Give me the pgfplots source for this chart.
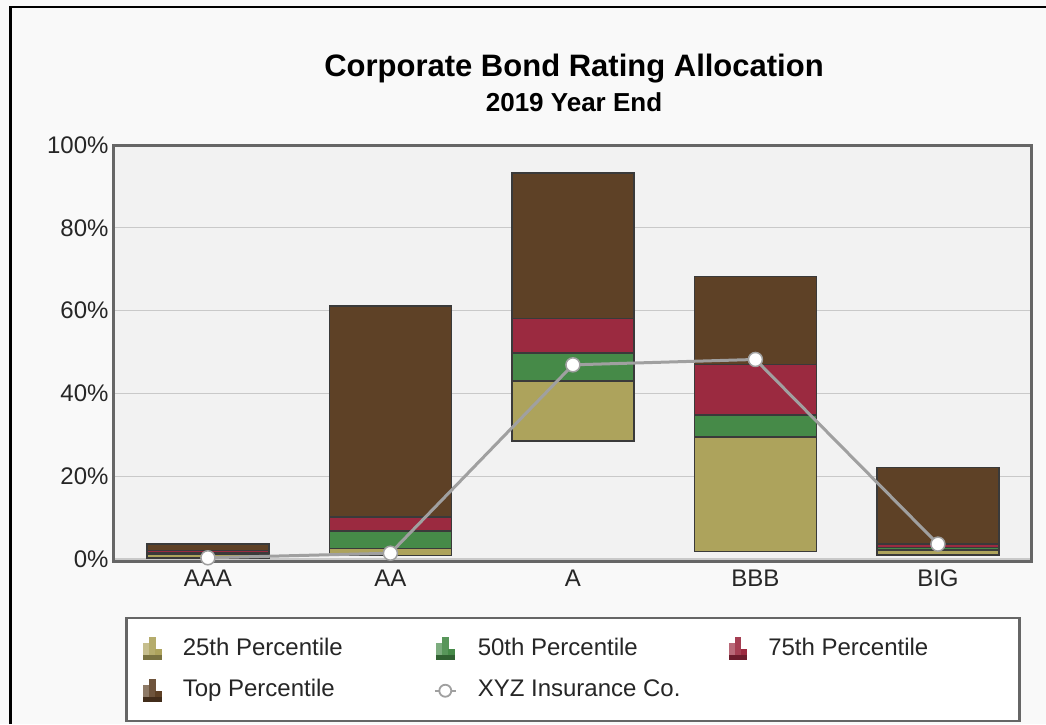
\documentclass[border=0pt]{standalone}
\usepackage{pgfplots}
\usepackage{pgfplotstable}
\pgfplotsset{compat=1.18}
\usepackage{fontspec}
\setmainfont{Liberation Sans}

\definecolor{tanC}{HTML}{ADA35C}
\definecolor{greenC}{HTML}{468A48}
\definecolor{redC}{HTML}{9B2A40}
\definecolor{brownC}{HTML}{5E4126}
\definecolor{barBorder}{HTML}{3A3A3A}
\definecolor{lineC}{HTML}{A0A0A0}
\definecolor{plotbg}{HTML}{F2F2F2}
\definecolor{outerbg}{HTML}{F9F9F9}
\definecolor{gridC}{HTML}{C9C9C9}
\definecolor{borderC}{HTML}{666666}
\definecolor{tickC}{HTML}{262626}

\newcommand\iconbars[1]{%
  \fill[#1!70!white] (0pt,-10pt) rectangle (5pt,5pt);
  \fill[#1!90!white] (6pt,-10pt) rectangle (11pt,11pt);
  \fill[#1] (12pt,-10pt) rectangle (17pt,-1pt);
  \fill[#1!70!black] (0pt,-10pt) rectangle (17pt,-7pt);
}

\pgfplotstableread{
x low p25 p50 p75 top xyz
0 0.3 1.2 1.6 2.0 3.6 0.3
1 0.8 2.6 6.8 10.2 61.1 1.4
2 28.5 43.0 49.8 58.1 93.2 46.9
3 1.8 29.5 34.8 47.0 68.2 48.2
4 1.0 2.2 2.8 3.6 22.1 3.6
}\data

\begin{document}
\begin{tikzpicture}
\fill[outerbg] (0pt,0pt) rectangle (1046pt,724pt);
\draw[black, line width=2.5pt] (10.5pt,0pt) -- (10.5pt,717pt) -- (1046pt,717pt);

\node[font=\bfseries\fontsize{31}{36}\selectfont, anchor=base] at (574pt,647pt) {Corporate Bond Rating Allocation};
\node[font=\bfseries\fontsize{26}{30}\selectfont, anchor=base] at (574pt,612pt) {2019 Year End};

\begin{axis}[
  at={(113pt,163pt)}, anchor=south west,
  scale only axis, width=918pt, height=416pt,
  xmin=-0.52, xmax=4.51, ymin=-0.48, ymax=100,
  ybar stacked, bar width=122pt,
  xtick={0,1,2,3,4}, xticklabels={AAA,AA,A,BBB,BIG},
  ytick={0,20,40,60,80,100}, yticklabels={0\%,20\%,40\%,60\%,80\%,100\%},
  major tick length=0pt,
  ymajorgrids, grid style={draw=gridC, line width=1.3pt},
  axis background/.style={fill=plotbg},
  axis line style={draw=borderC, line width=3pt},
  ticklabel style={font=\fontsize{24}{28}\selectfont, text=tickC},
  xticklabel style={yshift=-5pt},
  yticklabel style={xshift=-1pt},
  legend columns=3,
  legend style={at={(0.0131,-0.1346)}, anchor=north west,
    draw=borderC, line width=2.5pt, fill=white,
    inner xsep=17pt, inner ysep=19pt, row sep=19pt,
    font=\fontsize{24}{28}\selectfont, text=tickC,
    nodes={inner sep=0pt, text height=17pt, text depth=5pt, anchor=west},
    /tikz/every odd column/.style={column sep=21pt},
    /tikz/every even column/.style={column sep=22pt}},
]
\addplot[draw=none, fill=none, forget plot] table[x=x, y=low] {\data};
\addplot[fill=tanC, draw=barBorder, line width=1.5pt, legend image code/.code={\iconbars{tanC}}] table[x=x, y expr=\thisrow{p25}-\thisrow{low}] {\data};
\addlegendentry{\makebox[229pt][l]{25th Percentile}}
\addplot[fill=greenC, draw=barBorder, line width=1.5pt, legend image code/.code={\iconbars{greenC}}] table[x=x, y expr=\thisrow{p50}-\thisrow{p25}] {\data};
\addlegendentry{\makebox[229pt][l]{50th Percentile}}
\addplot[fill=redC, draw=barBorder, line width=1.5pt, legend image code/.code={\iconbars{redC}}] table[x=x, y expr=\thisrow{p75}-\thisrow{p50}] {\data};
\addlegendentry{\makebox[234pt][l]{75th Percentile}}
\addplot[fill=brownC, draw=barBorder, line width=1.5pt, legend image code/.code={\iconbars{brownC}}] table[x=x, y expr=\thisrow{top}-\thisrow{p75}] {\data};
\addlegendentry{\makebox[229pt][l]{Top Percentile}}
\addlegendimage{legend image code/.code={
  \draw[lineC, line width=2pt] (-2pt,0pt) -- (19pt,0pt);
  \draw[lineC, line width=1.8pt, fill=white] (8.5pt,0pt) circle (6pt);}}
\addlegendentry{\makebox[229pt][l]{XYZ Insurance Co.}}
\end{axis}

\begin{axis}[
  at={(113pt,163pt)}, anchor=south west,
  scale only axis, width=918pt, height=416pt,
  xmin=-0.52, xmax=4.51, ymin=-0.48, ymax=100,
  hide axis, clip=false,
]
\addplot[lineC, line width=3pt, mark=*, mark size=7pt,
  mark options={fill=white, draw=lineC, line width=1.5pt}]
  table[x=x, y=xyz] {\data};
\end{axis}

\pgfresetboundingbox
\useasboundingbox (0pt,0pt) rectangle (1046pt,724pt);
\end{tikzpicture}
\end{document}
